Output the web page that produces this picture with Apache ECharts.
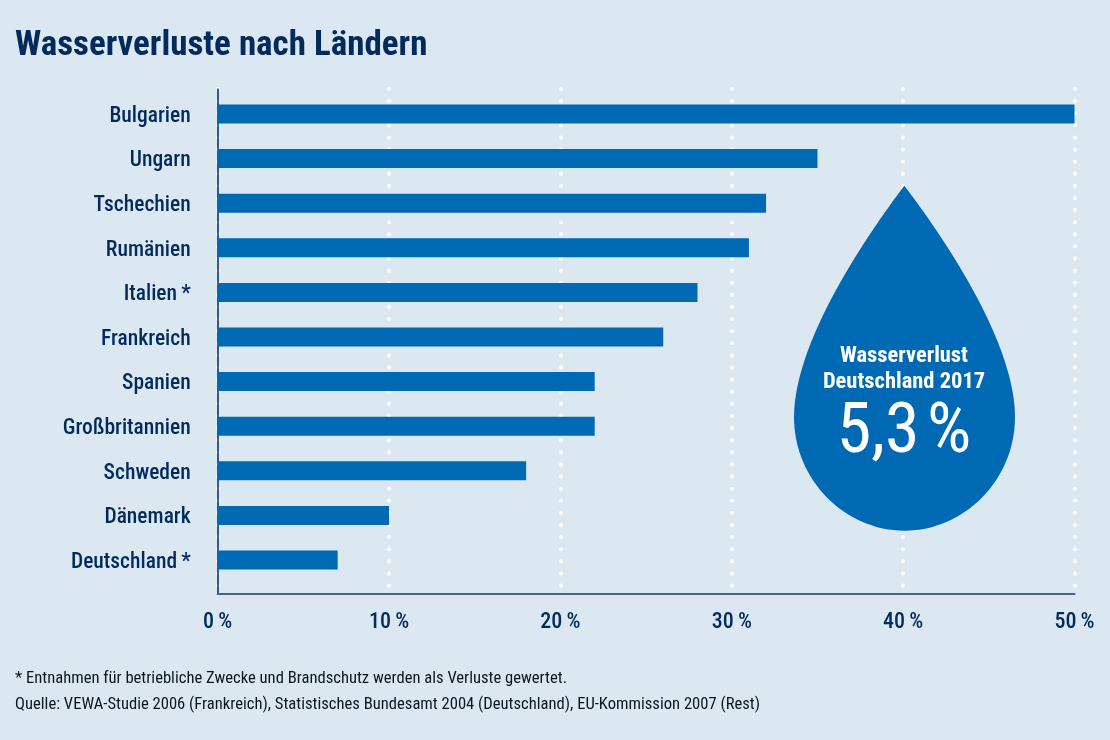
<!DOCTYPE html>
<html>
<head>
<meta charset="utf-8">
<title>Wasserverluste nach Ländern</title>
<script src="https://cdn.jsdelivr.net/npm/echarts@6/dist/echarts.min.js"></script>
<style>
  html, body { margin: 0; padding: 0; background: #dce8f1; }
  #chart { width: 1110px; height: 740px; }
</style>
</head>
<body>
<div id="chart"></div>
<script>
var countries = ['Bulgarien', 'Ungarn', 'Tschechien', 'Rumänien', 'Italien\u2009*', 'Frankreich', 'Spanien', 'Großbritannien', 'Schweden', 'Dänemark', 'Deutschland\u2009*'];
var losses = [50, 35, 32, 31, 28, 26, 22, 22, 18, 10, 7];
var xMin = 0, xMax = 50, xStep = 10;

var titleText = 'Wasserverluste nach Ländern';
var noteText = '* Entnahmen für betriebliche Zwecke und Brandschutz werden als Verluste gewertet.';
var sourceText = 'Quelle: VEWA-Studie 2006 (Frankreich), Statistisches Bundesamt 2004 (Deutschland), EU-Kommission 2007 (Rest)';
var dropLabel = 'Wasserverlust\nDeutschland 2017';
var dropValue = '5,3\u200a%';

var font = '"Roboto Condensed", "Liberation Sans", sans-serif';
var navy = '#002b5c';
var blue = '#0069b4';
var dropPath = 'M904.3 185.7 C880 218 794 335 794 417 C794 480 845 530.7 904.5 530.7 C964 530.7 1015 480 1015 417 C1015 335 929 218 904.3 185.7 Z';

var chart = echarts.init(document.getElementById('chart'));
chart.setOption({
  backgroundColor: '#dce8f1',
  textStyle: { fontFamily: font },
  animation: false,
  title: [
    { text: titleText, left: 10, top: 24, textStyle: { fontFamily: font, fontSize: 35, fontWeight: 'bold', color: navy } },
    { text: noteText, left: 10, top: 665, textStyle: { fontFamily: font, fontSize: 16.6, fontWeight: 'normal', color: '#0c1620' } },
    { text: sourceText, left: 10, top: 691, textStyle: { fontFamily: font, fontSize: 16.6, fontWeight: 'normal', color: '#0c1620' } }
  ],
  // grid 0 draws the frame and grid lines, grid 1 holds the bars
  grid: [
    { left: 217.7, width: 856.8, top: 89, height: 505 },
    { left: 217.7, width: 856.8, top: 91.7, height: 490.6 }
  ],
  xAxis: [
    {
      gridIndex: 0, type: 'value', min: xMin, max: xMax, interval: xStep,
      axisLine: { show: true, onZero: false, lineStyle: { color: '#44628a', width: 2 } },
      axisTick: { show: false },
      axisLabel: {
        margin: 17, fontFamily: font, fontSize: 22, fontWeight: 500, color: navy,
        formatter: function (v) { return v + '\u2009%'; }
      },
      splitLine: {
        show: true,
        lineStyle: { color: '#ffffff', width: 4, type: [0.01, 12.1], cap: 'round' }
      }
    },
    { gridIndex: 1, type: 'value', min: xMin, max: xMax, interval: xStep, show: false }
  ],
  yAxis: [
    {
      gridIndex: 0, type: 'value', min: 0, max: 1,
      axisLine: { show: true, lineStyle: { color: navy, width: 1.5 } },
      axisTick: { show: false }, axisLabel: { show: false }, splitLine: { show: false }
    },
    {
      gridIndex: 1, type: 'category', data: countries, inverse: true,
      axisLine: { show: false }, axisTick: { show: false },
      axisLabel: {
        margin: 27,
        formatter: '{c|{value}}',
        rich: { c: { fontFamily: font, fontSize: 21.5, fontWeight: 500, color: navy, padding: [5, 0, 0, 0] } }
      }
    }
  ],
  series: [
    {
      type: 'bar', xAxisIndex: 1, yAxisIndex: 1, data: losses, barWidth: 19,
      itemStyle: { color: blue }, z: 5
    },
    {
      // the drop callout
      type: 'custom', coordinateSystem: 'none', data: [0], z: 10, silent: true,
      renderItem: function () {
        return {
          type: 'group',
          children: [
            {
              type: 'path',
              shape: { pathData: dropPath, x: 794, y: 185.7, width: 221, height: 345, layout: 'cover' },
              style: { fill: blue }
            },
            {
              type: 'text', x: 904, y: 369,
              style: { text: dropLabel, fill: '#fff', font: 'bold 22.5px ' + font, align: 'center', verticalAlign: 'middle', lineHeight: 26 }
            },
            {
              type: 'text', x: 904, y: 434,
              style: { text: dropValue, fill: '#fff', font: '400 70px ' + font, align: 'center', verticalAlign: 'middle' }
            }
          ]
        };
      }
    }
  ]
});
</script>
</body>
</html>
